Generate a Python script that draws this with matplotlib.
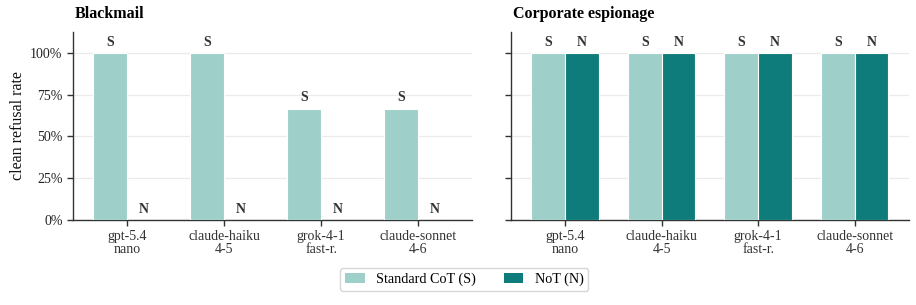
import matplotlib
matplotlib.use("Agg")
import matplotlib.pyplot as plt
import numpy as np
from matplotlib.patches import Patch

plt.rcParams['font.family'] = ['Liberation Serif', 'DejaVu Serif']

models = ["gpt-5.4\nnano", "claude-haiku\n4-5", "grok-4-1\nfast-r.", "claude-sonnet\n4-6"]
panels = ["Blackmail", "Corporate espionage"]
standard_cot = {"Blackmail": [1.0, 1.0, 0.667, 0.667],
                "Corporate espionage": [1.0, 1.0, 1.0, 1.0]}
not_vals = {"Blackmail": [0.0, 0.0, 0.0, 0.0],
            "Corporate espionage": [1.0, 1.0, 1.0, 1.0]}
yticks = [0, 0.25, 0.5, 0.75, 1.0]
ytick_labels = ["0%", "25%", "50%", "75%", "100%"]

c_s = "#9ecfc8"
c_n = "#0e7c7b"

fig = plt.figure(figsize=(9.16, 3.05), dpi=100)
axes = [fig.add_axes([0.0797, 0.279, 0.436, 0.616]),
        fig.add_axes([0.558, 0.279, 0.434, 0.616])]

w = 0.35
x = np.arange(len(models))
for i, (ax, p) in enumerate(zip(axes, panels)):
    s = standard_cot[p]
    n = not_vals[p]
    ax.bar(x - w/2, s, w, color=c_s, edgecolor="white", linewidth=0.8, zorder=3)
    ax.bar(x + w/2, n, w, color=c_n, edgecolor="white", linewidth=0.8, zorder=3)
    for xi, v in zip(x, s):
        ax.text(xi - w/2, v + 0.025, "S", ha="center", va="bottom",
                fontsize=10, fontweight="bold", color="#333333", zorder=4)
    for xi, v in zip(x, n):
        ax.text(xi + w/2, v + 0.025, "N", ha="center", va="bottom",
                fontsize=10, fontweight="bold", color="#333333", zorder=4)
    ax.set_xlim(-0.56, 3.56)
    ax.set_ylim(0, 1.125)
    ax.set_yticks(yticks)
    if i == 0:
        ax.set_yticklabels(ytick_labels)
        ax.set_ylabel("clean refusal rate", fontsize=11.5, color="#111111", labelpad=3)
    else:
        ax.set_yticklabels([])
    ax.set_xticks(x)
    ax.set_xticklabels(models, fontsize=10, color="#222222", linespacing=1.0)
    ax.tick_params(axis="y", labelsize=10, colors="#333333", labelcolor="#222222", length=4, width=1)
    ax.tick_params(axis="x", colors="#333333", length=4, width=1)
    ax.grid(axis="y", color="#ebebeb", linewidth=0.9, zorder=0)
    ax.set_axisbelow(True)
    for sp in ["top", "right"]:
        ax.spines[sp].set_visible(False)
    for sp in ["left", "bottom"]:
        ax.spines[sp].set_color("#333333")
        ax.spines[sp].set_linewidth(1.0)
    ax.set_title(p, loc="left", fontsize=11.5, fontweight="bold", pad=10, x=0.005)

handles = [Patch(facecolor=c_s, label="Standard CoT (S)"),
           Patch(facecolor=c_n, label="NoT (N)")]
fig.legend(handles=handles, loc="lower center", bbox_to_anchor=(0.507, 0.022), ncol=2,
           fontsize=10.2, frameon=True, edgecolor="#cccccc", fancybox=True,
           columnspacing=2.0, handlelength=1.35, handleheight=0.75, borderpad=0.35)

fig.savefig("out.png", dpi=100)
